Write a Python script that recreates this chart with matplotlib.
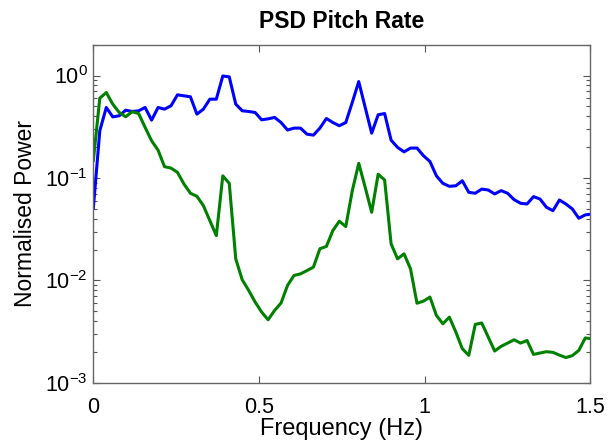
import numpy as np
import matplotlib
matplotlib.use('Agg')
import matplotlib.pyplot as plt
from matplotlib.ticker import LogLocator, NullFormatter

plt.rcParams['font.family'] = ['Liberation Sans', 'DejaVu Sans']
plt.rcParams['mathtext.fontset'] = 'custom'
plt.rcParams['mathtext.rm'] = 'Liberation Sans'
plt.rcParams['mathtext.it'] = 'Liberation Sans:italic'
plt.rcParams['mathtext.bf'] = 'Liberation Sans:bold'

# normalised PSD values, one per frequency bin
freq_step = 20.0 / 1024  # Hz per bin

blue_psd = [0.0507, 0.289, 0.488, 0.395, 0.405, 0.459, 0.446, 0.453, 0.488, 0.367,
            0.488, 0.470, 0.507, 0.648, 0.634, 0.620, 0.420, 0.470, 0.588, 0.588,
            0.99, 0.97, 0.526, 0.453, 0.446, 0.436, 0.370, 0.378, 0.390, 0.348,
            0.294, 0.307, 0.307, 0.268, 0.262, 0.307, 0.381, 0.348, 0.324, 0.348,
            0.546, 0.874, 0.488, 0.274, 0.414, 0.426, 0.234, 0.199, 0.180, 0.196,
            0.196, 0.165, 0.145, 0.105, 0.0887, 0.083, 0.084, 0.094, 0.0725, 0.071,
            0.078, 0.0764, 0.0699, 0.0753, 0.071, 0.0615, 0.0567, 0.0558, 0.0658, 0.0624,
            0.0518, 0.048, 0.061, 0.0558, 0.0499, 0.0405, 0.0437, 0.0445]

green_psd = [0.148, 0.601, 0.683, 0.526, 0.436, 0.396, 0.443, 0.426, 0.312, 0.231,
             0.187, 0.129, 0.125, 0.1135, 0.0874, 0.071, 0.0663, 0.0538, 0.0384, 0.0274,
             0.105, 0.0887, 0.01627, 0.01016, 0.0080, 0.00615, 0.00492, 0.00414, 0.00510, 0.00603,
             0.00895, 0.0112, 0.0116, 0.0125, 0.0135, 0.0204, 0.0215, 0.0307, 0.0379, 0.0336,
             0.075, 0.139, 0.081, 0.0463, 0.109, 0.0957, 0.0228, 0.01626, 0.0182, 0.0130,
             0.0060, 0.00629, 0.00689, 0.00456, 0.00378, 0.00439, 0.00314, 0.00216, 0.00186, 0.00373,
             0.00385, 0.00281, 0.00205, 0.00228, 0.00245, 0.00264, 0.00245, 0.0026, 0.0019, 0.00196,
             0.00202, 0.00199, 0.00187, 0.00177, 0.00185, 0.00208, 0.00275, 0.0027]

freq = freq_step * np.arange(len(blue_psd))

fig = plt.figure(figsize=(6.1, 4.46), dpi=100)
ax = fig.add_axes([0.153, 0.1413, 0.815, 0.7585])

ax.semilogy(freq, blue_psd, color='#0000ff', lw=2.2)
ax.semilogy(freq, green_psd, color='#008000', lw=2.2)

ax.set_xlim(0, 1.5)
ax.set_ylim(1e-3, 2)
ax.set_xticks([0, 0.5, 1, 1.5])
ax.set_xticklabels(['0', '0.5', '1', '1.5'])
ax.yaxis.set_major_locator(LogLocator(base=10, numticks=10))
ax.yaxis.set_minor_locator(LogLocator(base=10, subs=np.arange(2, 10), numticks=10))
ax.yaxis.set_minor_formatter(NullFormatter())

ax.tick_params(which='both', direction='in', top=True, right=True,
               color='#555555', labelsize=15.5)
ax.tick_params(which='major', length=5, width=0.8)
ax.tick_params(which='minor', length=3, width=0.8)
ax.tick_params(axis='x', pad=10)
ax.tick_params(axis='y', pad=4)
for s in ax.spines.values():
    s.set_color('#666666')
    s.set_linewidth(1.0)

ax.set_title('PSD Pitch Rate', fontsize=16.5, fontweight='bold', pad=12)
ax.set_xlabel('Frequency (Hz)', fontsize=17, labelpad=0)
ax.set_ylabel('Normalised Power', fontsize=16.5, labelpad=6)

fig.savefig('out.png', dpi=100)
